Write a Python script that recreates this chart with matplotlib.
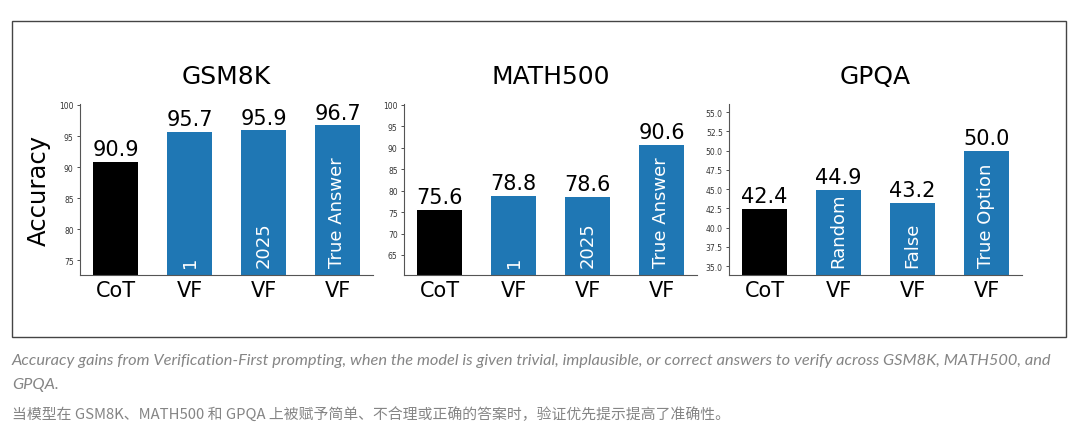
import matplotlib
matplotlib.use("Agg")
import matplotlib.pyplot as plt
from matplotlib.patches import Rectangle
from matplotlib.transforms import blended_transform_factory

# data
titles = ["GSM8K", "MATH500", "GPQA"]
xlabels = ["CoT", "VF", "VF", "VF"]
gsm8k = [90.9, 95.7, 95.9, 96.7]
math500 = [75.6, 78.8, 78.6, 90.6]
gpqa = [42.4, 44.9, 43.2, 50.0]
gsm8k_inner = ["", "1", "2025", "True Answer"]
math500_inner = ["", "1", "2025", "True Answer"]
gpqa_inner = ["", "Random", "False", "True Option"]
ylims = [(72.7, 100.2), (60.4, 100.3), (33.9, 56.1)]
yticks = [[75, 80, 85, 90, 95, 100],
          [65, 70, 75, 80, 85, 90, 95, 100],
          [35.0, 37.5, 40.0, 42.5, 45.0, 47.5, 50.0, 52.5, 55.0]]

caption_en = ("Accuracy gains from Verification-First prompting, when the model is given trivial, "
              "implausible, or correct answers to verify across GSM8K, MATH500, and")
caption_en2 = "GPQA."
caption_zh = "当模型在 GSM8K、MATH500 和 GPQA 上被赋予简单、不合理或正确的答案时，验证优先提示提高了准确性。"

W, H = 1080, 439
fig = plt.figure(figsize=(W / 100, H / 100), dpi=100)

# frame round the chart
fig.patches.append(Rectangle((12 / W, 1 - 338 / H), (1066 - 12) / W, (338 - 22) / H,
                             transform=fig.transFigure, fill=False,
                             edgecolor="#444444", linewidth=1.0))

lefts = [80, 404, 729]
values = [gsm8k, math500, gpqa]
inners = [gsm8k_inner, math500_inner, gpqa_inner]
colors = ["black", "#1f77b4", "#1f77b4", "#1f77b4"]

for i in range(3):
    ax = fig.add_axes([lefts[i] / W, 163.3 / H, 293 / W, 171 / H])
    x = list(range(len(values[i])))
    bars = ax.bar(x, values[i], width=0.6, color=colors)
    ax.bar_label(bars, labels=["%.1f" % v for v in values[i]], padding=2, fontsize=15)
    ax.set_ylim(*ylims[i])
    ax.set_yticks(yticks[i])
    if i == 2:
        ax.set_yticklabels(["%.1f" % t for t in yticks[i]])
    ax.tick_params(axis="y", labelsize=5.5, length=2.5, width=0.6, colors="#333333", pad=2)
    ax.set_xticks(x)
    ax.set_xticklabels(xlabels)
    ax.tick_params(axis="x", labelsize=15, length=0, pad=4)
    ax.set_title(titles[i], fontsize=18, pad=15)
    for s in ["top", "right"]:
        ax.spines[s].set_visible(False)
    for s in ["left", "bottom"]:
        ax.spines[s].set_color("#555555")
        ax.spines[s].set_linewidth(0.8)
    tr = blended_transform_factory(ax.transData, ax.transAxes)
    for j, txt in enumerate(inners[i]):
        if txt:
            ax.text(j, 0.045, txt, transform=tr, rotation=90, ha="center", va="bottom",
                    color="white", fontsize=13)
    if i == 0:
        ax.set_ylabel("Accuracy", fontsize=17.5, labelpad=6)

cap = dict(color="#858585", style="italic", va="center", ha="left")
fig.text(12 / W, 1 - 361 / H, caption_en, family=["Lato", "DejaVu Sans"], fontsize=11.8, **cap)
fig.text(12 / W, 1 - 385 / H, caption_en2, family=["Lato", "DejaVu Sans"], fontsize=11.8, **cap)
fig.text(12 / W, 1 - 415 / H, caption_zh, family=["Noto Sans CJK SC", "DejaVu Sans"],
         fontsize=10.7, **cap)

fig.savefig("out.png", dpi=100)
